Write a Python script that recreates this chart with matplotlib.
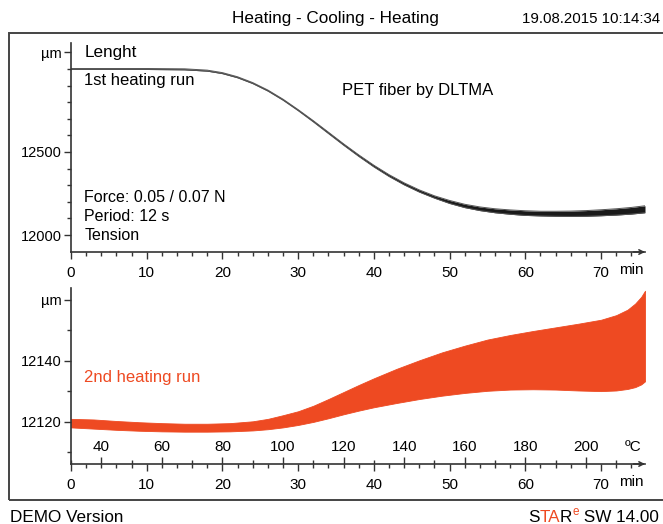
import matplotlib
matplotlib.use('Agg')
import matplotlib.pyplot as plt
from matplotlib.patches import Rectangle
from matplotlib.ticker import FixedLocator, FixedFormatter, MultipleLocator
import matplotlib.transforms as mtransforms

plt.rcParams['font.family'] = ['Liberation Sans', 'DejaVu Sans']

# 1st heating run: length band (DLTMA oscillation envelope), µm vs min
t1 = [0, 10, 15, 18, 20, 22, 24, 26, 28, 30, 32, 34, 36, 38, 40, 42, 44, 46, 48,
      50, 52, 54, 56, 58, 60, 62, 64, 66, 68, 70, 72, 74, 75.8]
len1_hi = [13003, 13003, 13001, 12993, 12978, 12953, 12918, 12873, 12818, 12755,
           12688.5, 12619, 12549, 12482.5, 12420, 12363.5, 12314, 12271.5, 12236,
           12208, 12185, 12169, 12158, 12151, 12146, 12143, 12143, 12144,
           12147, 12152, 12158, 12166, 12176]
len1_lo = [12997, 12997, 12995, 12987, 12972, 12947, 12912, 12867, 12812, 12749,
           12681.5, 12611, 12541, 12473.5, 12410, 12352.5, 12302, 12258.5, 12222,
           12190, 12165, 12147, 12134, 12125, 12118, 12115, 12113, 12112,
           12113, 12116, 12120, 12126, 12134]

# 2nd heating run
t2 = [0, 3, 6, 9, 12, 15, 18, 21, 24, 26, 28, 30, 32, 34, 36, 38, 40, 43, 46, 49,
      52, 55, 58, 61, 64, 67, 70, 72, 73.5, 74.5, 75.3, 75.8]
len2_hi = [12121, 12120.8, 12120.3, 12119.9, 12119.6, 12119.4, 12119.4, 12119.6,
           12120.2, 12121, 12122.2, 12123.5, 12125.3, 12127.5, 12129.8, 12132.1,
           12134.3, 12137.4, 12140.2, 12142.8, 12145, 12147, 12148.5, 12149.8,
           12151, 12152.2, 12153.5, 12155, 12156.8, 12158.8, 12161, 12163]
len2_lo = [12118.2, 12117.8, 12117.4, 12117.1, 12116.9, 12116.8, 12116.8, 12116.9,
           12117.2, 12117.6, 12118.2, 12119, 12120, 12121.2, 12122.5, 12123.7,
           12124.8, 12126.2, 12127.5, 12128.6, 12129.5, 12130.2, 12130.6, 12130.7,
           12130.6, 12130.3, 12130.1, 12130.3, 12130.8, 12131.4, 12132.3, 12133.3]

min_ticks = [0, 10, 20, 30, 40, 50, 60, 70]
y1_ticks = [12000, 12500, 13100]
y1_labels = ['12000', '12500', 'µm']
y2_ticks = [12120, 12140, 12160]
y2_labels = ['12120', '12140', 'µm']
temp_ticks = [40, 60, 80, 100, 120, 140, 160, 180, 200]

RED = '#ee4a22'
AX = '#333333'
FS = 10.5     # tick labels
FT = 12       # annotation text

fig = plt.figure(figsize=(6.63, 5.24), dpi=100)

# frame around the plot area (right edge runs off the page)
fig.patches.append(Rectangle((9 / 663, 1 - 500 / 524), 1.2, 467 / 524,
                             transform=fig.transFigure, fill=False,
                             lw=1.4, ec='#444444', clip_on=False))

ax1 = fig.add_axes([71 / 663, 1 - 252 / 524, 574 / 663, 209 / 524])
ax2 = fig.add_axes([71 / 663, 1 - 464 / 524, 574 / 663, 176 / 524])

for ax in (ax1, ax2):
    ax.patch.set_visible(False)
    ax.spines[['top', 'right']].set_visible(False)
    for s in ('left', 'bottom'):
        ax.spines[s].set_color(AX)
        ax.spines[s].set_linewidth(1.2)
    ax.set_xlim(0, 75.8)
    ax.xaxis.set_major_locator(FixedLocator(min_ticks))
    ax.xaxis.set_minor_locator(MultipleLocator(2))
    ax.tick_params(axis='x', which='major', length=5, width=1, color=AX,
                   pad=5, labelsize=FS + 0.5)
    ax.tick_params(axis='x', which='minor', length=3, width=1, color=AX)
    ax.tick_params(axis='y', which='major', length=5, width=1, color=AX,
                   pad=1.5, labelsize=FS)
    ax.tick_params(axis='y', which='minor', length=3, width=1, color=AX)
    ax.annotate('', xy=(1.0, 0), xytext=(0.98, 0), xycoords='axes fraction',
                arrowprops=dict(arrowstyle='->', lw=1.1, color=AX,
                                shrinkA=0, shrinkB=0, mutation_scale=8))
    trans = mtransforms.blended_transform_factory(ax.transData, ax.transAxes)
    ax.annotate('min', xy=(74.0, 0), xycoords=trans, xytext=(0, -18),
                textcoords='offset pixels', ha='center', va='center', fontsize=FS + 0.5)

# top panel
ax1.fill_between(t1, len1_lo, len1_hi, color='#1a1a1a', lw=0)
ax1.plot(t1, len1_hi, color='#555555', lw=0.7)
ax1.plot(t1, len1_lo, color='#555555', lw=0.7)
ax1.set_ylim(11897.6, 13156.6)
ax1.yaxis.set_major_locator(FixedLocator(y1_ticks))
ax1.yaxis.set_major_formatter(FixedFormatter(y1_labels))
ax1.yaxis.set_minor_locator(FixedLocator(list(range(12000, 13101, 100))))

ax1.text(0.023, 0.955, 'Lenght', transform=ax1.transAxes, va='center', fontsize=12.3)
ax1.text(0.023, 0.82, '1st heating run', transform=ax1.transAxes, va='center', fontsize=FT)
ax1.text(0.472, 0.775, 'PET fiber by DLTMA', transform=ax1.transAxes, va='center', fontsize=FT)
ax1.text(0.023, 0.263, 'Force: 0.05 / 0.07 N', transform=ax1.transAxes, va='center', fontsize=11.5)
ax1.text(0.023, 0.172, 'Period: 12 s', transform=ax1.transAxes, va='center', fontsize=11.5)
ax1.text(0.023, 0.077, 'Tension', transform=ax1.transAxes, va='center', fontsize=11.5)

# bottom panel
ax2.fill_between(t2, len2_lo, len2_hi, color=RED, lw=0.6, ec=RED)
ax2.set_ylim(12106.2, 12163.9)
ax2.yaxis.set_major_locator(FixedLocator(y2_ticks))
ax2.yaxis.set_major_formatter(FixedFormatter(y2_labels))
ax2.yaxis.set_minor_locator(FixedLocator([12110, 12130, 12150]))
ax2.text(0.023, 0.494, '2nd heating run', transform=ax2.transAxes, va='center',
         fontsize=FT, color=RED)

# temperature scale on the same axis line (2.5 K/min from 30 °C)
sec = ax2.secondary_xaxis(0.0, functions=(lambda t: 30 + 2.5 * t,
                                          lambda T: (T - 30) / 2.5))
sec.set_alignment('top')
sec.spines['top'].set_visible(False)
sec.xaxis.set_major_locator(FixedLocator(temp_ticks))
sec.xaxis.set_minor_locator(MultipleLocator(10))
sec.tick_params(axis='x', which='major', length=5, width=1, color=AX, pad=2.5,
                labelsize=FS + 0.5, direction='out')
sec.tick_params(axis='x', which='minor', length=3, width=1, color=AX, direction='out')
trans2 = mtransforms.blended_transform_factory(ax2.transData, ax2.transAxes)
ax2.annotate('ºC', xy=(74.2, 0), xycoords=trans2, xytext=(0, 17),
             textcoords='offset pixels', ha='center', va='center', fontsize=FS + 0.5)

# header and footer
fig.text(335 / 663, 1 - 19 / 524, 'Heating - Cooling - Heating', ha='center',
         va='center', fontsize=12.3)
fig.text(660 / 663, 1 - 19 / 524, '19.08.2015 10:14:34', ha='right',
         va='center', fontsize=FS + 0.3)
fig.text(10 / 663, 1 - 517 / 524, 'DEMO Version', ha='left', va='center', fontsize=12.3)

renderer = fig.canvas.get_renderer()
x = 528 / 663
y0 = 1 - 517 / 524
for s, c, sz, dy in [('S', 'black', 12.3, 0), ('TA', RED, 12.3, 0), ('R', 'black', 12.3, 0),
                     ('e', RED, 8.5, 0.01), (' SW 14.00', 'black', 12.3, 0)]:
    txt = fig.text(x, y0 + dy, s, color=c, fontsize=sz, ha='left', va='center')
    bb = txt.get_window_extent(renderer)
    x = fig.transFigure.inverted().transform((bb.x1, 0))[0]

fig.savefig('out.png', dpi=100)
